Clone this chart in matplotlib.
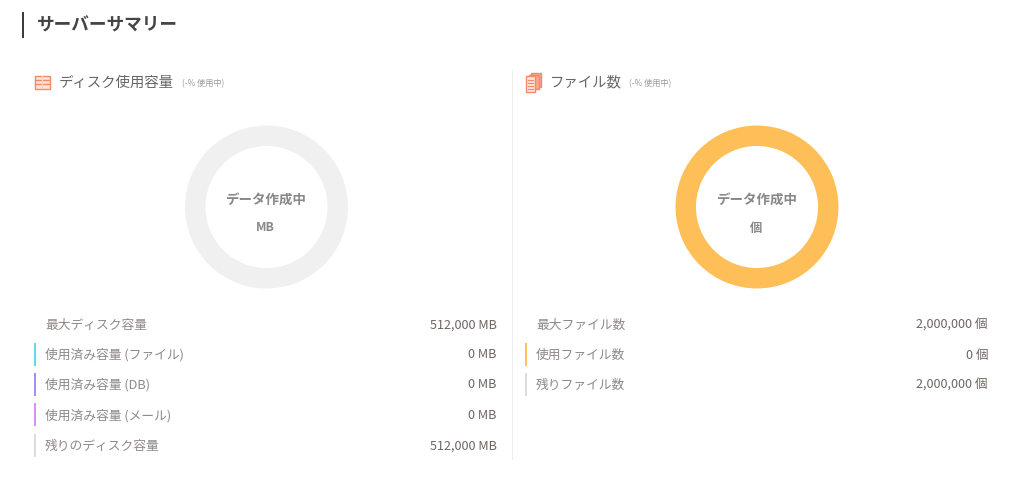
import matplotlib
matplotlib.use("Agg")
import matplotlib.pyplot as plt
from matplotlib.patches import Rectangle, Polygon

plt.rcParams['font.family'] = ['Noto Sans CJK JP', 'DejaVu Sans']

W, H = 1024, 485
title = "サーバーサマリー"
disk_title = "ディスク使用容量"
file_title = "ファイル数"
usage_note = "(-% 使用中)"
pending = "データ作成中"

disk_labels = ["最大ディスク容量", "使用済み容量 (ファイル)", "使用済み容量 (DB)", "使用済み容量 (メール)", "残りのディスク容量"]
disk_values = ["512,000 MB", "0 MB", "0 MB", "0 MB", "512,000 MB"]
disk_colors = [None, "#62d8ea", "#a48ff5", "#d993f2", "#dddddd"]
file_labels = ["最大ファイル数", "使用ファイル数", "残りファイル数"]
file_values = ["2,000,000 個", "0 個", "2,000,000 個"]
file_colors = [None, "#ffc25c", "#dddddd"]

disk_ring = [0, 0, 0, 512000]
disk_ring_colors = ["#62d8ea", "#a48ff5", "#d993f2", "#f0f0f0"]
file_ring = [2000000]
file_ring_colors = ["#ffbf58"]

fig = plt.figure(figsize=(W / 100, H / 100), dpi=100, facecolor="white")
bg = fig.add_axes([0, 0, 1, 1])
bg.set_xlim(0, W)
bg.set_ylim(H, 0)
bg.axis("off")

# header
bg.add_patch(Rectangle((22, 13), 2, 26, color="#3c3c3c", lw=0))
bg.text(37, 25.5, title, fontsize=12.7, fontweight="bold", color="#444444", va="center", ha="left")

# divider
bg.add_patch(Rectangle((511.5, 71), 1.5, 390, color="#eeeeee", lw=0))

# section headers
bg.text(59, 82.5, disk_title, fontsize=10.4, color="#666666", va="center")
bg.text(182, 84, usage_note, fontsize=5.9, color="#999999", va="center")
bg.text(550, 82.5, file_title, fontsize=10.4, color="#666666", va="center")
bg.text(629, 84, usage_note, fontsize=5.9, color="#999999", va="center")

# disk icon
ic = "#f58a68"
bg.add_patch(Rectangle((34.5, 76.5), 15, 13, fc="#fde3da", ec=ic, lw=1))
for yy in (80.5, 84.5):
    bg.plot([35, 49], [yy, yy], color=ic, lw=1)
bg.plot([42, 42], [77, 89], color="#fbd0c2", lw=1)

# file icon
for dx, dy in ((5, -1), (2.5, 0.5)):
    bg.add_patch(Polygon([(526 + dx, 75 + dy), (536 + dx, 75 + dy), (536 + dx, 89 + dy), (526 + dx, 89 + dy)],
                         fc="#f9a98f", ec=ic, lw=1))
bg.add_patch(Polygon([(525.5, 77), (535, 77), (535, 92.5), (525.5, 92.5)], fc="#fde3da", ec=ic, lw=1))
for yy in (81, 84, 87, 90):
    bg.plot([527.5, 533], [yy, yy], color=ic, lw=0.8)


def donut(cx, cy, values, colors):
    R = 83
    ax = fig.add_axes([(cx - R) / W, 1 - (cy + R) / H, 2 * R / W, 2 * R / H])
    ax.pie(values, colors=colors, startangle=90, counterclock=False, radius=1,
           wedgeprops=dict(width=23.5 / 83, edgecolor="white", linewidth=2.2))
    ax.set_xlim(-1, 1)
    ax.set_ylim(-1, 1)
    ax.set_aspect("equal")
    ax.patch.set_alpha(0)


donut(266.5, 208, disk_ring, disk_ring_colors)
donut(757, 208, file_ring, file_ring_colors)

center = "#888888"
for cx, unit in ((265.5, "MB"), (756.5, "個")):
    bg.text(cx, 199.5, pending, fontsize=9.7, fontweight="bold", color=center, ha="center", va="center")
    bg.text(cx, 228, unit, fontsize=8.8, fontweight="bold", color=center, ha="center", va="center")

rows = [325, 355, 385, 415.5, 446]


def table(xbar, xlabel, xright, labels, values, colors):
    for y, lab, val, col in zip(rows, labels, values, colors):
        if col:
            bg.add_patch(Rectangle((xbar, y - 11.5), 2.3, 23, color=col, lw=0))
        bg.text(xlabel, y, lab, fontsize=9.2, color="#8f8a87", va="center")
        bg.text(xright, y, val, fontsize=9.1, color="#6e6561", va="center", ha="right")


table(34, 45, 497, disk_labels, disk_values, disk_colors)
table(525, 536, 988, file_labels, file_values, file_colors)

fig.savefig("out.png", dpi=100, facecolor="white")
